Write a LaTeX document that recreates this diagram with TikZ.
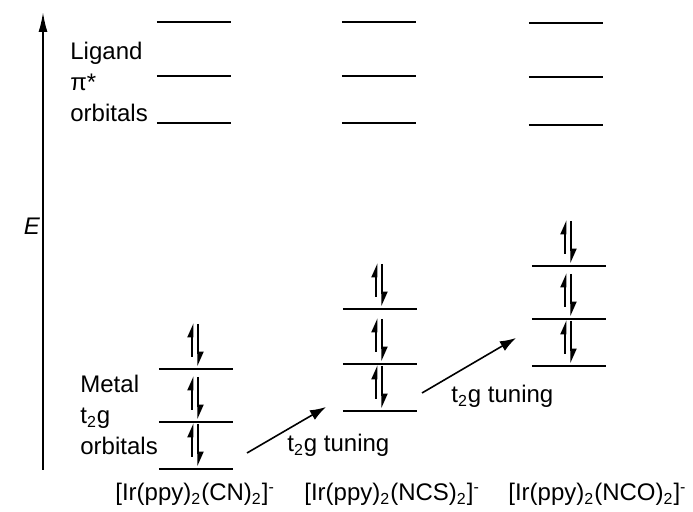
\documentclass[tikz,border=0pt]{standalone}
\usepackage{fontspec}
\setmainfont{Liberation Sans}
\usetikzlibrary{arrows.meta}
\tikzset{
  level/.style={line width=1pt},
  spinup/.style={line width=1pt,-{Triangle[left,length=6pt,width=5pt]}},
  spindown/.style={line width=1pt,-{Triangle[left,length=6pt,width=5pt]}},
  tuning/.style={line width=0.8pt,-{Latex[length=8pt,width=5.5pt]}},
  lbl/.style={inner sep=0pt,font=\fontsize{12}{15.3}\selectfont}
}
\begin{document}
\begin{tikzpicture}[x=0.5pt,y=-0.5pt]
    \useasboundingbox (0,0) rectangle (693,512);
    % energy axis
    \draw[line width=0.9pt,-{Latex[length=10pt,width=4.5pt]}] (43,470) -- (43,12);
    \node[lbl] (E) at (32,226) {\textit{E}};

    % ligand levels
    \foreach \c/\ya/\yb/\yc/\w in {194/22/76/123/1, 379/22/76/123/1, 566/23/77/125/1.4}
    {
      \draw[level,line width=\w pt] (\c-37,\ya) -- (\c+37,\ya);
      \draw[level] (\c-37,\yb) -- (\c+37,\yb);
      \draw[level] (\c-37,\yc) -- (\c+37,\yc);
    }
    \node[lbl,align=left,anchor=west] (ligand) at (70,82) {Ligand\\π*\\orbitals};

    % metal t2g levels, each filled with a pair
    \foreach \c/\y/\w in {196/369/1, 196/422/1, 196/469/1, 380/309/1, 380/364/1, 380/411/1.4, 569/266/1, 569/319/1, 569/366/1}
    {
      \draw[level,line width=\w pt] (\c-37,\y) -- (\c+37,\y);
      \draw[spinup] (\c-3.5,\y-12) -- (\c-3.5,\y-46);
      \draw[spindown] (\c+2.5,\y-45) -- (\c+2.5,\y-3);
    }
    \node[lbl,align=left,anchor=west] (metal) at (80,415) {Metal\\t\textsubscript{2}g\\orbitals};

    % tuning arrows
    \coordinate (t1s) at (247,453);
    \coordinate (t1e) at (326,407);
    \coordinate (t2s) at (422,393);
    \coordinate (t2e) at (516,338);
    \draw[tuning] (t1s) -- (t1e);
    \draw[tuning] (t2s) -- (t2e);
    \node[lbl,anchor=base west] (tun1) at (287,452) {t\textsubscript{2}g tuning};
    \node[lbl,anchor=base west] (tun2) at (451,403) {t\textsubscript{2}g tuning};

    % complexes
    \node[lbl,anchor=base west] (cn) at (115,501) {[Ir(ppy)\textsubscript{2}(CN)\textsubscript{2}]\textsuperscript{-}};
    \node[lbl,anchor=base west] (ncs) at (304,501) {[Ir(ppy)\textsubscript{2}(NCS)\textsubscript{2}]\textsuperscript{-}};
    \node[lbl,anchor=base west] (nco) at (508,501) {[Ir(ppy)\textsubscript{2}(NCO)\textsubscript{2}]\textsuperscript{-}};
\end{tikzpicture}
\end{document}
